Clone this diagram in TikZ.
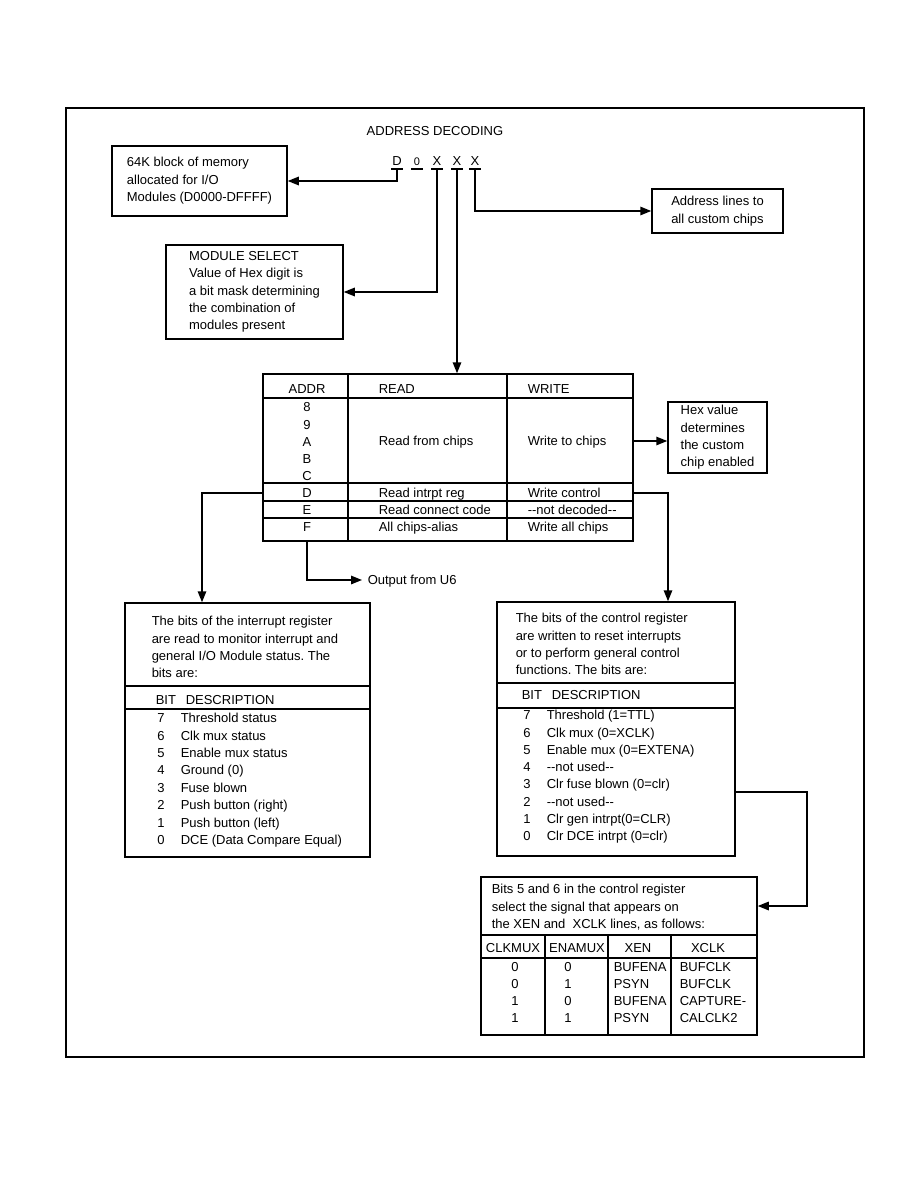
\documentclass[tikz,border=0pt]{standalone}
\usepackage{fontspec}
\setmainfont{Liberation Sans}
\usetikzlibrary{arrows.meta}
\frenchspacing

\begin{document}
\begin{tikzpicture}[x=1pt, y=-1pt, line width=1.5pt,
  every node/.style={font=\fontsize{13}{17.4}\selectfont},
  box/.style={draw, align=left, inner sep=0pt},
  frame/.style={draw, inner sep=0pt},
  cell/.style={inner sep=0pt, text height=9.4pt, text depth=0pt},
  lst/.style={align=left, inner sep=0pt, anchor=north west},
  arr/.style={-{Triangle[length=11pt, width=8.5pt]}}]
\useasboundingbox (0,0) rectangle (918,1188);
\draw[line width=1.2pt] (66,108) rectangle (864,1057);

\node[cell] (title) at (435,131) {ADDRESS DECODING};
\foreach \c/\x [count=\i] in {D/397, {\fontsize{11}{13}\selectfont 0}/417, X/437, X/457, X/475} {
  \node[cell, minimum width=12pt] (d\i) at (\x,161) {\c};
  \coordinate (u\i) at ([yshift=-2.5pt]d\i.south);
  \draw ([xshift=-6pt]u\i) -- ([xshift=6pt]u\i);
}

\node[box, minimum width=175pt, minimum height=70pt] (mem) at (199.5,181)
  {64K block of memory\\allocated for I/O\\Modules (D0000-DFFFF)};
\node[box, minimum width=177pt, minimum height=94pt] (sel) at (254.5,292)
  {MODULE SELECT\\Value of Hex digit is\\a bit mask determining\\the combination of\\modules present};
\node[box, minimum width=131pt, minimum height=44pt] (addr) at (717.5,211)
  {Address lines to\\all custom chips};
\node[box, minimum width=99pt, minimum height=71pt] (hex) at (717.5,437.5)
  {Hex value\\determines\\the custom\\chip enabled};

\node[frame, minimum width=370pt, minimum height=167pt] (dec) at (448,457.5) {};
\draw (348,374) -- (348,541) (507,374) -- (507,541);
\foreach \y in {398,483,501,518} \draw (263,\y) -- (633,\y);
\node[cell] (hA) at (307,389) {ADDR};
\node[cell, anchor=west] (hR) at (378,389) {READ};
\node[cell, anchor=west] (hW) at (527,389) {WRITE};
\foreach \a [count=\i from 0] in {8,9,A,B,C}
  \node[cell] (a\a) at (307,407+17.3*\i) {\a};
\node[cell, anchor=west] (rc) at (378,441) {Read from chips};
\node[cell, anchor=west] (wc) at (527,441) {Write to chips};
\foreach \a/\r/\w [count=\i from 0] in {D/Read intrpt reg/Write control,
    E/Read connect code/{-}{-}not decoded{-}{-}, F/All chips-alias/Write all chips} {
  \node[cell] (a\a) at (307,493+17*\i) {\a};
  \node[cell, anchor=west] (r\a) at (378,493+17*\i) {\r};
  \node[cell, anchor=west] (w\a) at (527,493+17*\i) {\w};
}
\node[cell, anchor=west] (u6) at (367,580) {Output from U6};

\node[frame, minimum width=245pt, minimum height=254pt] (ibox) at (247.5,730) {};
\draw (125,686) -- (370,686) (125,709) -- (370,709);
\node[lst] (itxt) at (151,615.5)
  {The bits of the interrupt register\\are read to monitor interrupt and\\general I/O Module status. The\\bits are:};
\node[cell, anchor=west] (ib) at (155,700) {BIT};
\node[cell, anchor=west] (id) at (185,700) {DESCRIPTION};
\foreach \b/\t [count=\i from 0] in {7/Threshold status, 6/Clk mux status,
    5/Enable mux status, 4/Ground (0), 3/Fuse blown, 2/Push button (right),
    1/Push button (left), 0/DCE (Data Compare Equal)} {
  \node[cell] (ibit\b) at (161,718+17.4*\i) {\b};
  \node[cell, anchor=west] (idsc\b) at (180,718+17.4*\i) {\t};
}

\node[frame, minimum width=238pt, minimum height=254pt] (cbox) at (616,729) {};
\draw (497,683) -- (735,683) (497,708) -- (735,708);
\node[lst] (ctxt) at (515,612.5)
  {The bits of the control register\\are written to reset interrupts\\or to perform general control\\functions. The bits are:};
\node[cell, anchor=west] (cb) at (521,695) {BIT};
\node[cell, anchor=west] (cd) at (551,695) {DESCRIPTION};
\foreach \b/\t [count=\i from 0] in {7/Threshold (1=TTL), 6/Clk mux (0=XCLK),
    5/Enable mux (0=EXTENA), 4/{-}{-}not used{-}{-}, 3/Clr fuse blown (0=clr),
    2/{-}{-}not used{-}{-}, 1/Clr gen intrpt(0=CLR), 0/Clr DCE intrpt (0=clr)} {
  \node[cell] (cbit\b) at (527,715+17.3*\i) {\b};
  \node[cell, anchor=west] (cdsc\b) at (546,715+17.3*\i) {\t};
}

\node[frame, minimum width=276pt, minimum height=158pt] (mux) at (619,956) {};
\draw (481,935) -- (757,935) (481,958) -- (757,958);
\foreach \x in {545,608,671} \draw (\x,935) -- (\x,1035);
\node[lst] (mtxt) at (491,883.5)
  {Bits 5 and 6 in the control register\\select the signal that appears on\\the XEN and\ \ XCLK lines, as follows:};
\node[cell] (mh1) at (513,948) {CLKMUX};
\node[cell] (mh2) at (577,948) {ENAMUX};
\node[cell] (mh3) at (638,948) {XEN};
\node[cell] (mh4) at (708,948) {XCLK};
\foreach \c/\e/\n/\k [count=\i from 0] in {0/0/BUFENA/BUFCLK, 0/1/PSYN/BUFCLK,
    1/0/BUFENA/CAPTURE-, 1/1/PSYN/CALCLK2} {
  \node[cell] (mc\i) at (515,967+17*\i) {\c};
  \node[cell] (me\i) at (568,967+17*\i) {\e};
  \node[cell, anchor=west] (mn\i) at (613,967+17*\i) {\n};
  \node[cell, anchor=west] (mk\i) at (679,967+17*\i) {\k};
}

\coordinate (lb) at (202,493);
\coordinate (rb) at (668,493);
\coordinate (kb) at (807,792);
\coordinate (ke) at (807,906);
\draw[arr] (u1) |- (mem.east);
\draw[arr] (u3) |- (sel.east);
\draw[arr] (u4) -- (u4 |- dec.north);
\draw[arr] (u5) |- (addr.west);
\draw[arr] (dec.east |- wc) -- (hex.west |- wc);
\draw[arr] (dec.west |- aD) -- (lb) -- (lb |- ibox.north);
\draw[arr] (dec.east |- aD) -- (rb) -- (rb |- cbox.north);
\draw[arr] (aF |- dec.south) |- ([xshift=-5pt]u6.west);
\draw[arr] (cbox.east |- kb) -- (kb) -- (ke) -- (mux.east |- ke);
\end{tikzpicture}
\end{document}
